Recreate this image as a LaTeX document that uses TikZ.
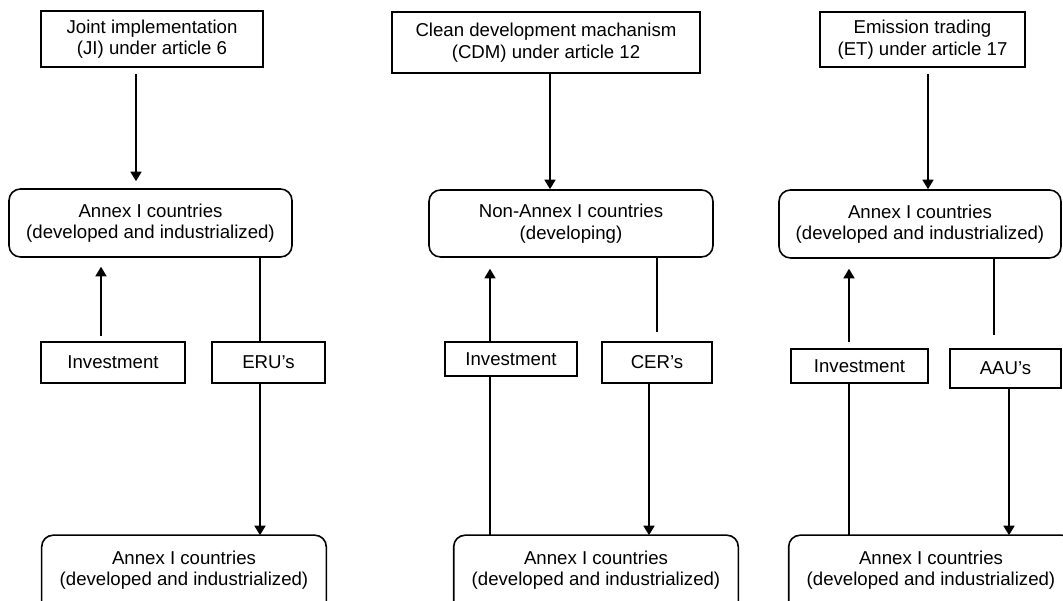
\documentclass[tikz,border=0pt]{standalone}
\usepackage{fontspec}
\setmainfont{Liberation Sans}
\usepackage{tikz}
\usetikzlibrary{arrows.meta}

\begin{document}
\begin{tikzpicture}[>={Triangle[width=2.2mm,length=1.9mm]},
  blk/.style={draw, line width=0.9pt, inner sep=2pt, align=center, font=\fontsize{10.6pt}{12.2pt}\selectfont},
  rblk/.style={blk, rounded corners=2.3mm, minimum width=5.66cm, minimum height=1.36cm},
  botblk/.style={rblk, draw=none},
  arr/.style={->, line width=0.9pt},
  link/.style={line width=0.9pt}]
  \useasboundingbox (0,0) rectangle (21.26,12.02);

  % Mechanisms
  \node[blk, minimum width=4.44cm, minimum height=1.12cm] (ji) at (3.04, 11.24) {Joint implementation\\(JI) under article 6};
  \node[blk, minimum width=6.16cm, minimum height=1.22cm] (cdm) at (10.92, 11.17) {Clean development machanism\\(CDM) under article 12};
  \node[blk, minimum width=4.10cm, minimum height=1.10cm] (et) at (18.45, 11.23) {Emission trading\\(ET) under article 17};

  % Host countries
  \node[rblk] (ann1) at (3.01, 7.56) {Annex I countries\\(developed and industrialized)};
  \node[rblk, minimum width=5.68cm, minimum height=1.34cm] (nonann) at (11.42, 7.55) {Non-Annex I countries\\(developing)};
  \node[rblk, minimum width=5.64cm] (ann3) at (18.40, 7.54) {Annex I countries\\(developed and industrialized)};

  % Flows
  \node[blk, minimum width=2.88cm, minimum height=0.82cm] (inv1) at (2.26, 4.77) {Investment};
  \node[blk, minimum width=2.26cm, minimum height=0.82cm] (eru) at (5.37, 4.77) {ERU’s};
  \node[blk, minimum width=2.64cm, minimum height=0.68cm] (inv2) at (10.22, 4.84) {Investment};
  \node[blk, minimum width=2.20cm, minimum height=0.82cm] (cer) at (13.14, 4.77) {CER’s};
  \node[blk, minimum width=2.74cm, minimum height=0.68cm] (inv3) at (17.19, 4.70) {Investment};
  \node[blk, minimum width=2.22cm, minimum height=0.78cm] (aau) at (20.11, 4.65) {AAU’s};

  % Investor countries (cut off at the bottom)
  \node[botblk] (bot1) at (3.68, 0.62) {Annex I countries\\(developed and industrialized)};
  \node[botblk] (bot2) at (11.92, 0.62) {Annex I countries\\(developed and industrialized)};
  \node[botblk] (bot3) at (18.62, 0.62) {Annex I countries\\(developed and industrialized)};
  \draw[link, rounded corners=2.3mm] ([yshift=-6mm]bot1.south west) |- (bot1.north east) -- ([yshift=-6mm]bot1.south east);
  \draw[link, rounded corners=2.3mm] ([yshift=-6mm]bot2.south west) |- (bot2.north east) -- ([yshift=-6mm]bot2.south east);
  \draw[link, rounded corners=2.3mm] ([yshift=-6mm]bot3.south west) |- (bot3.north east) -- ([yshift=-6mm]bot3.south east);

  % JI
  \draw[arr] ([xshift=-3.2mm,yshift=-1.2mm]ji.south) -- ([xshift=-3.2mm,yshift=1.4mm]ji.south |- ann1.north);
  \draw[arr] ([xshift=-2.4mm,yshift=1mm]inv1.north) -- ([xshift=-2.4mm,yshift=-1.8mm]inv1.north |- ann1.south);
  \draw[link] ([xshift=-1.7mm]eru.north |- ann1.south) -- ([xshift=-1.7mm]eru.north);
  \draw[arr] ([xshift=-1.7mm]eru.south) -- ([xshift=-1.7mm]eru.south |- bot1.north);

  % CDM
  \draw[arr] ([xshift=0.8mm]cdm.south) -- ([xshift=0.8mm]cdm.south |- nonann.north);
  \draw[link] ([xshift=-4.2mm]inv2.south |- bot2.north) -- ([xshift=-4.2mm]inv2.south);
  \draw[arr] ([xshift=-4.2mm]inv2.north) -- ([xshift=-4.2mm,yshift=-2.2mm]inv2.north |- nonann.south);
  \draw[link] (cer.north |- nonann.south) -- ([yshift=1.8mm]cer.north);
  \draw[arr] ([xshift=-1.6mm]cer.south) -- ([xshift=-1.6mm]cer.south |- bot2.north);

  % ET
  \draw[arr] ([xshift=1.1mm,yshift=-1.2mm]et.south) -- ([xshift=1.1mm]et.south |- ann3.north);
  \draw[link] ([xshift=-2.1mm]inv3.south |- bot3.north) -- ([xshift=-2.1mm]inv3.south);
  \draw[arr] ([xshift=-2.1mm,yshift=1.2mm]inv3.north) -- ([xshift=-2.1mm,yshift=-2mm]inv3.north |- ann3.south);
  \draw[link] ([xshift=-2.3mm]aau.north |- ann3.south) -- ([xshift=-2.3mm,yshift=2.6mm]aau.north);
  \draw[arr] ([xshift=0.7mm]aau.south) -- ([xshift=0.7mm]aau.south |- bot3.north);
\end{tikzpicture}
\end{document}
